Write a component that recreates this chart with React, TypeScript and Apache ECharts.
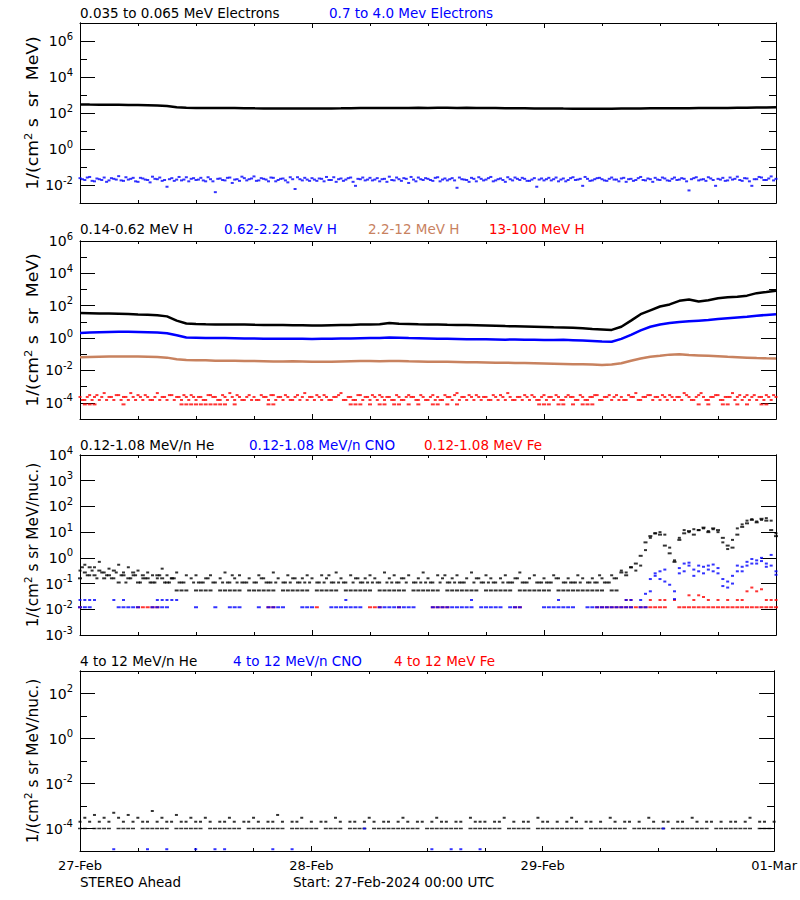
import React, { useEffect, useRef } from "react";
import * as echarts from "echarts";

// ---------- colours & fonts ----------
const FONT = "DejaVu Sans";
const BLACK = "#000000";
const BLUE = "#0000ff";
const BROWN = "#c8825f";
const RED = "#ff0000";

// ---------- time axis (hours since 27-Feb-2024 00:00 UTC) ----------
const dayTickHours = [0, 24, 48, 72];
const dayTickLabels = ["27-Feb", "28-Feb", "29-Feb", "01-Mar"];

// ---------- legends ----------
const legend1 = ["0.035 to 0.065 MeV Electrons", "0.7 to 4.0 Mev Electrons"];
const legend2 = ["0.14-0.62 MeV H", "0.62-2.22 MeV H", "2.2-12 MeV H", "13-100 MeV H"];
const legend3 = ["0.12-1.08 MeV/n He", "0.12-1.08 MeV/n CNO", "0.12-1.08 MeV Fe"];
const legend4 = ["4 to 12 MeV/n He", "4 to 12 MeV/n CNO", "4 to 12 MeV Fe"];

// ---------- panel 1 : electrons ----------
// hourly, 0..72 h
const eLowHourly = [
  295, 292, 290, 288, 284, 280, 275, 270, 262, 245, 210, 195,
  192, 190, 190, 188, 190, 186, 182, 180, 178, 180, 178, 180,
  178, 176, 180, 182, 186, 190, 192, 190, 192, 190, 192, 194,
  192, 194, 196, 192, 194, 192, 190, 188, 186, 184, 182, 180,
  180, 178, 176, 175, 174, 172, 170, 174, 176, 178, 180, 182,
  184, 182, 184, 186, 188, 190, 188, 192, 194, 196, 200, 204, 210,
];
// half-hourly, 0..72 h
const eHighHalfHourly = [
  0.024, 0.019, 0.028, 0.016, 0.021, 0.026, 0.018, 0.022, 0.031, 0.017, 0.02, 0.025,
  0.015, 0.023, 0.019, 0.029, 0.021, 0.017, 0.008, 0.024, 0.02, 0.018, 0.027, 0.022,
  0.019, 0.025, 0.016, 0.021, 0.004, 0.023, 0.018, 0.026, 0.02, 0.017, 0.024, 0.021,
  0.03, 0.018, 0.022, 0.016, 0.025, 0.019, 0.023, 0.014, 0.021, 0.027, 0.018, 0.02,
  0.024, 0.017, 0.022, 0.028, 0.019, 0.015, 0.023, 0.02, 0.026, 0.009, 0.021, 0.018,
  0.025, 0.02, 0.016, 0.022, 0.029, 0.018, 0.021, 0.024, 0.013, 0.02, 0.026, 0.019,
  0.022, 0.017, 0.027, 0.02, 0.018, 0.024, 0.007, 0.021, 0.019, 0.025, 0.016, 0.022,
  0.02, 0.028, 0.018, 0.023, 0.015, 0.021, 0.026, 0.019, 0.022, 0.017, 0.024, 0.02,
  0.018, 0.025, 0.021, 0.016, 0.023, 0.019, 0.027, 0.02, 0.009, 0.022, 0.018, 0.024,
  0.021, 0.017, 0.026, 0.02, 0.023, 0.015, 0.022, 0.019, 0.028, 0.018, 0.021, 0.025,
  0.019, 0.023, 0.017, 0.026, 0.02, 0.022, 0.005, 0.024, 0.018, 0.021, 0.027, 0.019,
  0.022, 0.025, 0.018, 0.02, 0.029, 0.017, 0.023, 0.009, 0.021, 0.026, 0.019, 0.03,
  0.022,
];
// half-hourly, at 0.25 h + 0.5 h steps
const eHighQuarterOffset = [
  0.021, 0.026, 0.017, 0.023, 0.019, 0.015, 0.024, 0.02, 0.018, 0.027, 0.022, 0.016,
  0.025, 0.02, 0.014, 0.022, 0.026, 0.019, 0.021, 0.017, 0.028, 0.02, 0.016, 0.024,
  0.02, 0.018, 0.027, 0.016, 0.022, 0.019, 0.025, 0.013, 0.021, 0.029, 0.018, 0.023,
  0.017, 0.024, 0.02, 0.026, 0.016, 0.022, 0.018, 0.027, 0.006, 0.021, 0.025, 0.017,
  0.02, 0.023, 0.016, 0.019, 0.027, 0.021, 0.017, 0.024, 0.015, 0.022, 0.026, 0.02,
  0.018, 0.024, 0.021, 0.015, 0.019, 0.026, 0.017, 0.022, 0.028, 0.016, 0.021, 0.024,
  0.019, 0.025, 0.016, 0.023, 0.021, 0.018, 0.026, 0.02, 0.015, 0.022, 0.027, 0.018,
  0.024, 0.016, 0.021, 0.019, 0.027, 0.018, 0.022, 0.025, 0.017, 0.02, 0.008, 0.023,
  0.021, 0.018, 0.026, 0.02, 0.016, 0.024, 0.019, 0.022, 0.028, 0.017, 0.021, 0.025,
  0.018, 0.022, 0.02, 0.016, 0.025, 0.021, 0.017, 0.024, 0.019, 0.023, 0.015, 0.02,
  0.026, 0.018, 0.022, 0.019, 0.024, 0.016, 0.021, 0.027, 0.02, 0.017, 0.023, 0.009,
  0.02, 0.017, 0.026, 0.022, 0.019, 0.024, 0.016, 0.021, 0.028, 0.019, 0.023, 0.018,
];

// ---------- panel 2 : protons ----------
const hLowHourly = [
  35, 34, 33, 33, 32, 31, 29, 28, 26, 22, 12, 8,
  7.5, 7.2, 7, 7, 6.8, 6.8, 6.6, 6.5, 6.5, 6.4, 6.3, 6.2,
  6, 6, 6.2, 6.4, 6.5, 6.8, 7, 7.2, 8.5, 7.6, 7.5, 7.2,
  7, 6.8, 6.6, 6.5, 6.4, 6.2, 6, 5.8, 5.5, 5.4, 5.2, 5,
  4.8, 4.6, 4.5, 4.3, 4.0, 3.6, 3.4, 3.2, 5, 12, 30, 52,
  90, 120, 200, 240, 180, 220, 290, 330, 360, 420, 600, 700, 850,
];
const hMidHourly = [
  2.1, 2.2, 2.3, 2.4, 2.5, 2.5, 2.4, 2.3, 2.2, 2.0, 1.5, 1.1,
  1.05, 1.0, 1.0, 1.0, 0.98, 0.95, 0.95, 0.92, 0.9, 0.9, 0.92, 0.9,
  0.88, 0.9, 0.92, 0.95, 0.96, 0.98, 1.0, 1.02, 1.1, 1.05, 1.0, 0.98,
  0.95, 0.92, 0.9, 0.88, 0.86, 0.85, 0.84, 0.82, 0.8, 0.82, 0.8, 0.78,
  0.76, 0.75, 0.78, 0.74, 0.7, 0.66, 0.62, 0.6, 0.9, 1.6, 3, 5,
  7, 8.5, 10, 11, 12, 13, 15, 17, 19, 21, 24, 27, 30,
];
const hHighHourly = [
  0.065, 0.068, 0.07, 0.072, 0.074, 0.074, 0.072, 0.07, 0.068, 0.062, 0.05, 0.044,
  0.042, 0.042, 0.04, 0.04, 0.04, 0.038, 0.038, 0.037, 0.036, 0.036, 0.037, 0.036,
  0.035, 0.034, 0.034, 0.036, 0.037, 0.038, 0.038, 0.037, 0.038, 0.039, 0.037, 0.036,
  0.035, 0.034, 0.034, 0.033, 0.032, 0.032, 0.031, 0.03, 0.03, 0.029, 0.029, 0.028,
  0.027, 0.026, 0.025, 0.024, 0.024, 0.023, 0.022, 0.023, 0.028, 0.04, 0.055, 0.07,
  0.08, 0.095, 0.1, 0.09, 0.085, 0.08, 0.075, 0.07, 0.066, 0.062, 0.058, 0.056, 0.055,
];
const hTopHalfHourly = [
  2.3e-4, 1.5e-4, 3e-4, 2.3e-4, 1.5e-4, 4e-4, 2.3e-4, 1.5e-4, 3e-4, 2.3e-4, 1.5e-4, 2.3e-4,
  3e-4, 1.5e-4, 2.3e-4, 1.5e-4, 4e-4, 2.3e-4, 1.5e-4, 3e-4, 2.3e-4, 1.5e-4, 2.3e-4, 3e-4,
  1.5e-4, 2.3e-4, 1.5e-4, 3e-4, 2.3e-4, 1.5e-4, 2.3e-4, 4e-4, 1.5e-4, 2.3e-4, 1.5e-4, 3e-4,
  2.3e-4, 1.5e-4, 2.3e-4, 1.5e-4, 3e-4, 2.3e-4, 1.5e-4, 2.3e-4, 1.5e-4, 3e-4, 2.3e-4, 1.5e-4,
  2.3e-4, 3e-4, 1.5e-4, 2.3e-4, 1.5e-4, 2.3e-4, 4e-4, 1.5e-4, 2.3e-4, 1.5e-4, 3e-4, 2.3e-4,
  1.5e-4, 2.3e-4, 3e-4, 1.5e-4, 2.3e-4, 1.5e-4, 2.3e-4, 1.5e-4, 3e-4, 2.3e-4, 1.5e-4, 2.3e-4,
  1.5e-4, 3e-4, 2.3e-4, 1.5e-4, 2.3e-4, 1.5e-4, 4e-4, 2.3e-4, 1.5e-4, 2.3e-4, 3e-4, 1.5e-4,
  2.3e-4, 1.5e-4, 2.3e-4, 3e-4, 1.5e-4, 2.3e-4, 1.5e-4, 2.3e-4, 3e-4, 1.5e-4, 2.3e-4, 1.5e-4,
  3e-4, 2.3e-4, 1.5e-4, 2.3e-4, 1.5e-4, 3e-4, 2.3e-4, 1.5e-4, 2.3e-4, 1.5e-4, 2.3e-4, 3e-4,
  1.5e-4, 2.3e-4, 1.5e-4, 3e-4, 2.3e-4, 1.5e-4, 2.3e-4, 4e-4, 1.5e-4, 2.3e-4, 3e-4, 2.3e-4,
  1.5e-4, 2.3e-4, 3e-4, 1.5e-4, 2.3e-4, 4e-4, 2.3e-4, 1.5e-4, 3e-4, 2.3e-4, 1.5e-4, 2.3e-4,
  3e-4, 1.5e-4, 2.3e-4, 4e-4, 2.3e-4, 1.5e-4, 3e-4, 2.3e-4, 1.5e-4, 2.3e-4, 3e-4, 1.5e-4,
  2.3e-4,
];
const hTopQuarterOffset = [
  1.5e-4, 2.3e-4, 1.5e-4, 3e-4, 2.3e-4, 1.5e-4, 2.3e-4, 3e-4, 1.5e-4, 2.3e-4, 4e-4, 1.5e-4,
  2.3e-4, 3e-4, 1.5e-4, 2.3e-4, 1.5e-4, 2.3e-4, 3e-4, 1.5e-4, 2.3e-4, 3e-4, 1.5e-4, 2.3e-4,
  2.3e-4, 1.5e-4, 3e-4, 2.3e-4, 1.5e-4, 3e-4, 1.5e-4, 2.3e-4, 3e-4, 1.5e-4, 2.3e-4, 1.5e-4,
  1.5e-4, 3e-4, 2.3e-4, 3e-4, 1.5e-4, 2.3e-4, 3e-4, 1.5e-4, 2.3e-4, 1.5e-4, 4e-4, 2.3e-4,
  1.5e-4, 2.3e-4, 3e-4, 1.5e-4, 2.3e-4, 3e-4, 1.5e-4, 2.3e-4, 1.5e-4, 3e-4, 1.5e-4, 2.3e-4,
  3e-4, 1.5e-4, 2.3e-4, 2.3e-4, 1.5e-4, 3e-4, 1.5e-4, 2.3e-4, 2.3e-4, 1.5e-4, 3e-4, 1.5e-4,
  2.3e-4, 1.5e-4, 1.5e-4, 3e-4, 2.3e-4, 3e-4, 1.5e-4, 2.3e-4, 3e-4, 1.5e-4, 2.3e-4, 2.3e-4,
  1.5e-4, 3e-4, 1.5e-4, 2.3e-4, 4e-4, 1.5e-4, 2.3e-4, 1.5e-4, 2.3e-4, 3e-4, 1.5e-4, 2.3e-4,
  1.5e-4, 2.3e-4, 3e-4, 1.5e-4, 2.3e-4, 2.3e-4, 1.5e-4, 3e-4, 1.5e-4, 2.3e-4, 3e-4, 1.5e-4,
  2.3e-4, 3e-4, 2.3e-4, 1.5e-4, 1.5e-4, 3e-4, 2.3e-4, 1.5e-4, 2.3e-4, 3e-4, 1.5e-4, 2.3e-4,
  3e-4, 1.5e-4, 2.3e-4, 2.3e-4, 1.5e-4, 3e-4, 1.5e-4, 2.3e-4, 4e-4, 1.5e-4, 2.3e-4, 3e-4,
  1.5e-4, 2.3e-4, 2.3e-4, 1.5e-4, 3e-4, 2.3e-4, 1.5e-4, 3e-4, 2.3e-4, 1.5e-4, 2.3e-4, 3e-4,
];
const hTopLowRowLevel = 8e-5;
const hTopLowRowHours = [
  0.5, 1, 1.5, 4.5, 10.5, 11, 11.5, 12, 12.5, 13, 13.5, 14, 14.5, 15, 16, 19.5, 20,
  28, 28.5, 29, 30, 31, 31.5, 32.5, 33, 34, 35, 36.5, 37, 38, 39, 47.5, 48, 48.5,
  49.5, 50, 51, 52, 52.5, 53, 64, 65, 66.5, 67, 68, 69, 70.5, 71,
];

// ---------- panel 3 : 0.12-1.08 MeV/n ions ----------
const heLowHalfHourly = [
  0.32, 0.54, 0.21, 0.43, 0.7, 0.27, 0.38, 0.16, 0.54, 0.27, 0.43, 0.21,
  0.32, 0.16, 0.27, 0.21, 0.16, 0.38, 0.21, 0.16, 0.27, 0.11, 0.21, 0.16,
  0.21, 0.11, 0.16, 0.21, 0.11, 0.16, 0.27, 0.11, 0.16, 0.21, 0.11, 0.16,
  0.11, 0.21, 0.16, 0.11, 0.27, 0.16, 0.11, 0.21, 0.16, 0.11, 0.16, 0.21,
  0.16, 0.11, 0.21, 0.16, 0.11, 0.27, 0.16, 0.11, 0.21, 0.16, 0.11, 0.16,
  0.21, 0.16, 0.11, 0.27, 0.16, 0.21, 0.11, 0.16, 0.21, 0.11, 0.16, 0.27,
  0.16, 0.11, 0.21, 0.16, 0.11, 0.16, 0.21, 0.11, 0.16, 0.27, 0.16, 0.11,
  0.21, 0.16, 0.11, 0.16, 0.21, 0.11, 0.16, 0.27, 0.11, 0.16, 0.21, 0.11,
  0.16, 0.11, 0.21, 0.16, 0.11, 0.16, 0.11, 0.21, 0.16, 0.11, 0.16, 0.11,
  0.16, 0.11, 0.21, 0.16, 0.32, 0.27, 0.43, 0.32, 0.5, 2, 6, 9,
  10, 8, 2.5, 0.8, 6, 12, 10, 13, 12, 14, 11, 13,
  10, 4, 2.2, 5, 14, 20, 28, 32, 26, 30, 35, 28,
  9,
];
const heLowExtraHalfHourly = [
  0.16, 0.27, 0.43, 0.21, 0.32, 0.16, 0.21, 0.32, 0.11, 0.21, 0.16, 0.27,
  0.11, 0.21, 0.16, 0.11, 0.21, 0.16, 0.11, 0.16, 0.054, 0.054, 0.054, null,
  0.054, 0.054, 0.054, 0.054, null, 0.054, 0.054, 0.054, 0.054, 0.054, null, 0.054,
  0.054, 0.054, 0.054, 0.054, 0.054, null, 0.054, 0.054, 0.054, 0.054, 0.054, 0.054,
  null, 0.054, 0.054, 0.054, 0.054, 0.054, null, 0.054, 0.054, 0.054, 0.054, 0.054,
  0.054, null, 0.054, 0.054, 0.054, 0.054, 0.054, 0.054, null, 0.054, 0.054, 0.054,
  0.054, 0.054, 0.054, null, 0.054, 0.054, 0.054, 0.054, 0.054, 0.054, 0.054, null,
  0.054, 0.054, 0.054, 0.054, 0.054, 0.054, null, 0.054, 0.054, 0.054, 0.054, 0.054,
  0.054, 0.054, null, 0.054, 0.054, 0.054, 0.054, 0.054, 0.054, 0.054, 0.054, 0.054,
  0.054, null, 0.054, 0.054, 0.27, 0.21, 0.43, 0.6, 1.2, 4, 7, 9,
  8, 3, 1.5, 0.7, 5, 9, 11, 8, 12, 15, 10, 14,
  12, 6, 3, 2.5, 8, 16, 22, 30, 24, 33, 28, 12,
  7,
];
// quarter-hour offsets, 0.25 .. 55.25 h
const heLowQuarterOffset = [
  0.43, 0.21, 0.32, 0.16, 0.27, 0.21, 0.16, 0.27, 0.21, 0.11, 0.16, 0.21,
  0.11, 0.16, 0.11, 0.11, 0.21, 0.11, 0.11, 0.16, 0.11, 0.11, null, 0.11,
  0.11, 0.11, 0.16, 0.11, null, 0.11, 0.11, 0.21, 0.11, 0.11, 0.11, null,
  0.11, 0.16, 0.11, 0.11, 0.11, null, 0.11, 0.11, 0.16, 0.11, 0.11, 0.11,
  null, 0.11, 0.11, 0.21, 0.11, 0.11, 0.11, null, 0.11, 0.16, 0.11, 0.11,
  0.11, 0.11, null, 0.11, 0.11, 0.11, 0.16, 0.11, null, 0.11, 0.11, 0.11,
  0.11, null, 0.11, 0.21, 0.11, 0.11, 0.11, 0.11, null, 0.11, 0.16, 0.11,
  0.11, 0.11, null, 0.11, 0.11, 0.11, 0.16, 0.11, 0.11, null, 0.11, 0.11,
  0.11, 0.11, 0.16, null, 0.11, 0.11, 0.11, 0.11, null, 0.11, 0.11, 0.21,
  0.11, 0.11, 0.16,
];
const cnoLowTwoCountLevel = 0.023;
const cnoLowTwoCountHours = [0, 0.5, 1, 1.5, 3.5, 4.5, 8, 8.5, 9, 9.5, 10, 27.5, 40.5, 49.5, 56.5, 57, 58];
const cnoLowOneCountLevel = 0.012;
const cnoLowOneCountHours = [
  0, 0.5, 1, 4, 4.5, 5, 5.5, 6, 7.5, 8, 8.5, 9, 12, 14, 15.5, 16, 16.5, 18.5,
  19.5, 20, 20.5, 21, 23, 23.5, 24, 26, 26.5, 27, 27.5, 28, 28.5, 29,
  31, 31.5, 32, 32.5, 33, 33.5, 34, 34.5, 36.5, 37, 37.5, 38, 38.5, 39, 39.5, 40, 40.5,
  41.5, 42, 42.5, 43, 43.5, 44.5, 45, 45.5, 48, 48.5, 49, 49.5, 50, 50.5, 51,
  52.5, 53, 53.5, 54, 54.5, 55, 55.5, 56, 56.5, 57, 58, 58.5,
];
const cnoLowRise = [
  [58.5, 0.04], [59, 0.15], [59.5, 0.25], [60, 0.3], [60.5, 0.35], [61, 0.09], [61.5, 0.05],
  [62, 0.4], [62.5, 0.6], [63, 0.5], [63.5, 0.35], [64, 0.3], [64.5, 0.45], [65, 0.5],
  [65.5, 0.55], [66, 0.4], [66.5, 0.15], [67, 0.07], [67.5, 0.1], [68, 0.3], [68.5, 0.45],
  [69, 0.7], [69.5, 0.9], [70, 0.8], [70.5, 0.75], [71, 0.6], [71.5, 0.5], [72, 0.22],
];
const cnoLowRiseExtra = [
  [59, 0.05], [59.5, 0.2], [60, 0.15], [60.5, 0.12], [61.5, 0.025], [62, 0.25], [62.5, 0.3],
  [63, 0.65], [63.5, 0.2], [64, 0.5], [64.5, 0.25], [65, 0.35], [65.5, 0.3], [66, 0.25],
  [66.5, 0.08], [67, 0.12], [67.5, 0.2], [68, 0.5], [68.5, 0.3], [69, 0.5], [69.5, 0.6],
  [70, 0.6], [70.5, 1.0], [71, 0.45], [71.5, 1.3], [72, 0.3],
];
const feLowOneCountLevel = 0.012;
const feLowOneCountHours = [
  0, 6, 6.5, 7, 7.5, 8, 19.5, 20, 24.5, 30, 30.5, 31, 33, 36.5, 37, 37.5, 38, 45, 45.5,
  53.5, 54, 54.5, 55, 55.5, 56, 56.5, 57, 57.5, 58, 58.5, 59, 59.5, 60, 60.5,
  62, 62.5, 63, 63.5, 64, 64.5, 65, 65.5, 66, 66.5, 67, 67.5, 68, 68.5, 69, 69.5,
  70, 70.5, 71, 71.5, 72,
];
const feLowRise = [
  [56.5, 0.023], [57, 0.023], [59, 0.023], [60, 0.023], [60.5, 0.023], [61.5, 0.023],
  [63, 0.035], [63.5, 0.023], [64, 0.035], [64.5, 0.03], [65, 0.023], [66, 0.023],
  [67, 0.023], [68, 0.023], [68.5, 0.023], [69, 0.05], [69.5, 0.07], [70, 0.05],
  [70.5, 0.06], [71, 0.023], [71.5, 0.023], [72, 0.023],
];

// ---------- panel 4 : 4-12 MeV/n ions ----------
const heHighHalfHourly = [
  2e-4, 3e-4, 2e-4, 4e-4, 2e-4, 3e-4, 2e-4, 5e-4, 3e-4, 2e-4, 4e-4, 2e-4,
  3e-4, 2e-4, 2e-4, 6e-4, 2e-4, 3e-4, 2e-4, 2e-4, 4e-4, 2e-4, 2e-4, 3e-4,
  2e-4, 2e-4, 3e-4, 2e-4, null, 2e-4, 2e-4, 3e-4, 2e-4, null, 2e-4, 2e-4,
  3e-4, 2e-4, null, 2e-4, 2e-4, 4e-4, 2e-4, null, 2e-4, 2e-4, 3e-4, null,
  2e-4, null, 2e-4, 2e-4, null, 3e-4, 2e-4, null, 2e-4, 2e-4, null, 2e-4,
  3e-4, 2e-4, null, 2e-4, 2e-4, null, 2e-4, 3e-4, 2e-4, null, 2e-4, 2e-4,
  null, 2e-4, 3e-4, 2e-4, 2e-4, null, 2e-4, 2e-4, null, 3e-4, 2e-4, 2e-4,
  2e-4, null, 2e-4, 2e-4, 3e-4, null, 2e-4, null, 2e-4, 2e-4, null, 3e-4,
  2e-4, 2e-4, null, 2e-4, null, 2e-4, 3e-4, 2e-4, null, 2e-4, 2e-4, null,
  2e-4, null, 3e-4, 2e-4, null, 2e-4, 2e-4, null, 2e-4, null, 3e-4, 2e-4,
  null, 2e-4, 2e-4, null, 2e-4, 2e-4, null, 3e-4, 2e-4, null, 2e-4, 2e-4,
  null, 2e-4, null, 2e-4, 2e-4, null, 2e-4, 3e-4, null, 2e-4, 2e-4, null,
  2e-4,
];
const heHighOneCountLevel = 1e-4;
const heHighOneCountHours = [
  0, 0.5, 1.5, 2, 2.5, 3, 4, 4.5, 5, 5.5, 6.5, 7, 7.5, 8, 8.5, 9, 10, 10.5, 11, 11.5,
  12, 12.5, 13.5, 14, 14.5, 15, 15.5, 16, 16.5, 17.5, 18, 18.5, 19, 19.5, 20, 20.5, 21,
  22, 22.5, 23, 23.5, 24, 24.5, 25.5, 26, 26.5, 27, 28, 28.5, 29, 29.5, 30.5, 31, 31.5,
  32, 32.5, 33, 33.5, 34, 34.5, 35, 36, 36.5, 37, 37.5, 38, 38.5, 39, 39.5, 40.5, 41,
  41.5, 42, 42.5, 43, 43.5, 44.5, 45, 45.5, 46, 46.5, 47.5, 48, 48.5, 49, 49.5, 50,
  50.5, 51, 51.5, 52, 53, 53.5, 54, 54.5, 55, 55.5, 56, 56.5, 57.5, 58, 58.5, 59, 59.5,
  60, 60.5, 61.5, 62, 62.5, 63, 63.5, 64, 64.5, 65, 66, 66.5, 67, 67.5, 68, 68.5, 69,
  69.5, 70.5, 71, 71.5,
];
const cnoHighLowestLevel = 1.2e-5;
const cnoHighLowestHours = [3.5, 7, 9, 12, 14, 15, 20, 22, 36.5, 38.5, 39.5, 41.5];
const cnoHighOneCountLevel = 1e-4;
const cnoHighOneCountHours = [29.5, 60.5];

// ---------- panels layout ----------
const panels = [
  { top: 23, height: 180, min: -3, max: 7, major: [-2, 0, 2, 4, 6], minor: [-1, 1, 3, 5], legend: legend1, legendY: 13, legendX: [80, 329], colors: [BLACK, BLUE], title: "1/(cm{s|2} s  sr  MeV)", titleScale: 1.15 },
  { top: 241, height: 178, min: -5, max: 6, major: [-4, -2, 0, 2, 4, 6], minor: [-3, -1, 1, 3, 5], legend: legend2, legendY: 229, legendX: [80, 224, 368, 489], colors: [BLACK, BLUE, BROWN, RED], title: "1/(cm{s|2} s  sr  MeV)", titleScale: 1.15 },
  { top: 455, height: 180, min: -3, max: 4, major: [-3, -2, -1, 0, 1, 2, 3, 4], minor: [] as number[], legend: legend3, legendY: 445, legendX: [80, 249, 424], colors: [BLACK, BLUE, RED], title: "1/(cm{s|2} s sr MeV/nuc.)", titleScale: 1.02 },
  { top: 671, height: 180, min: -5, max: 3, major: [-4, -2, 0, 2], minor: [-3, -1, 1], legend: legend4, legendY: 661, legendX: [80, 233, 394], colors: [BLACK, BLUE, RED], title: "1/(cm{s|2} s sr MeV/nuc.)", titleScale: 1.02 },
];

// ---------- helpers ----------
type P = [number, number];
const stepped = (values: (number | null)[], step: number, offset = 0): P[] => {
  const out: P[] = [];
  values.forEach((v, i) => {
    if (v != null) out.push([offset + i * step, Math.log10(v)]);
  });
  return out;
};
const atLevel = (hours: number[], level: number): P[] => hours.map((h) => [h, Math.log10(level)]);
const pairs = (list: number[][]): P[] => list.map(([h, v]) => [h, Math.log10(v)]);

const dots = (data: P[], color: string, panel: number, size: number[] = [3, 2]) => ({
  type: "scatter",
  data,
  xAxisIndex: panel * 2,
  yAxisIndex: panel * 4,
  symbol: "rect",
  symbolSize: size,
  itemStyle: { color },
  silent: true,
  animation: false,
});
const trace = (data: P[], color: string, panel: number) => ({
  type: "line",
  data,
  xAxisIndex: panel * 2,
  yAxisIndex: panel * 4,
  showSymbol: false,
  symbol: "none",
  lineStyle: { color, width: 2.5 },
  silent: true,
  animation: false,
});

function buildOption() {
  const axisLine = { show: true, onZero: false, lineStyle: { color: BLACK, width: 1 } };
  const grid = panels.map((p) => ({ left: 80, right: 24, top: p.top, height: p.height }));

  const xAxis: any[] = [];
  panels.forEach((p, i) => {
    ["bottom", "top"].forEach((pos) => {
      xAxis.push({
        gridIndex: i,
        type: "value",
        position: pos,
        min: 0,
        max: 72,
        interval: 24,
        axisLine,
        axisTick: { show: true, inside: true, length: 5, lineStyle: { color: BLACK } },
        minorTick: { show: true, splitNumber: 4, length: 3, lineStyle: { color: BLACK } },
        splitLine: { show: false },
        minorSplitLine: { show: false },
        axisLabel: {
          show: pos === "bottom" && i === 3,
          margin: 8,
          color: BLACK,
          fontFamily: FONT,
          fontSize: 13,
          showMinLabel: true,
          showMaxLabel: true,
          formatter: (v: number) => {
            const k = dayTickHours.indexOf(v);
            return k >= 0 ? dayTickLabels[k] : "";
          },
        },
      });
    });
  });

  const yAxis: any[] = [];
  panels.forEach((p, i) => {
    const base = (pos: string) => ({
      gridIndex: i,
      type: "value",
      position: pos,
      min: p.min,
      max: p.max,
      axisLine,
      splitLine: { show: false },
    });
    yAxis.push({
      ...base("left"),
      axisTick: { show: true, inside: true, length: 15, customValues: p.major, lineStyle: { color: BLACK } },
      axisLabel: {
        show: true,
        customValues: p.major,
        margin: 7,
        color: BLACK,
        fontFamily: FONT,
        fontSize: 14,
        formatter: (v: number) => `{b|10}{s|${v}}`,
        rich: {
          b: { fontFamily: FONT, fontSize: 14, color: BLACK },
          s: { fontFamily: FONT, fontSize: 10, color: BLACK, verticalAlign: "bottom", padding: [0, 0, 10, 0] },
        },
      },
    });
    yAxis.push({
      ...base("left"),
      axisTick: { show: p.minor.length > 0, inside: true, length: 7, customValues: p.minor, lineStyle: { color: BLACK } },
      axisLabel: { show: false },
    });
    yAxis.push({
      ...base("right"),
      axisTick: { show: true, inside: true, length: 15, customValues: p.major, lineStyle: { color: BLACK } },
      axisLabel: { show: false },
    });
    yAxis.push({
      ...base("right"),
      axisTick: { show: p.minor.length > 0, inside: true, length: 7, customValues: p.minor, lineStyle: { color: BLACK } },
      axisLabel: { show: false },
    });
  });

  const series: any[] = [
    // panel 1
    dots(stepped(eHighHalfHourly, 0.5), BLUE, 0),
    dots(stepped(eHighQuarterOffset, 0.5, 0.25), BLUE, 0),
    trace(stepped(eLowHourly, 1), BLACK, 0),
    // panel 2
    dots(stepped(hTopHalfHourly, 0.5), RED, 1),
    dots(stepped(hTopQuarterOffset, 0.5, 0.25), RED, 1),
    dots(atLevel(hTopLowRowHours, hTopLowRowLevel), RED, 1, [4, 2]),
    trace(stepped(hHighHourly, 1), BROWN, 1),
    trace(stepped(hMidHourly, 1), BLUE, 1),
    trace(stepped(hLowHourly, 1), BLACK, 1),
    // panel 3
    dots(atLevel(feLowOneCountHours, feLowOneCountLevel), RED, 2, [4, 2]),
    dots(pairs(feLowRise), RED, 2),
    dots(atLevel(cnoLowOneCountHours, cnoLowOneCountLevel), BLUE, 2, [4, 2]),
    dots(atLevel(cnoLowTwoCountHours, cnoLowTwoCountLevel), BLUE, 2),
    dots(pairs(cnoLowRise), BLUE, 2),
    dots(pairs(cnoLowRiseExtra), BLUE, 2),
    dots(stepped(heLowExtraHalfHourly, 0.5), BLACK, 2, [4, 2]),
    dots(stepped(heLowQuarterOffset, 0.5, 0.25), BLACK, 2),
    dots(stepped(heLowHalfHourly, 0.5), BLACK, 2),
    // panel 4
    dots(atLevel(cnoHighLowestHours, cnoHighLowestLevel), BLUE, 3),
    dots(atLevel(heHighOneCountHours, heHighOneCountLevel), BLACK, 3, [4, 1.5]),
    dots(atLevel(cnoHighOneCountHours, cnoHighOneCountLevel), BLUE, 3),
    dots(stepped(heHighHalfHourly, 0.5), BLACK, 3),
  ];

  const graphic: any[] = [];
  panels.forEach((p) => {
    p.legend.forEach((t, k) => {
      graphic.push({
        type: "text",
        x: p.legendX[k],
        y: p.legendY,
        silent: true,
        style: { text: t, fill: p.colors[k], fontFamily: FONT, fontSize: 13.5, align: "left", verticalAlign: "middle" },
      });
    });
    graphic.push({
      type: "text",
      x: 33,
      y: p.top + p.height / 2,
      rotation: Math.PI / 2,
      scaleX: p.titleScale,
      silent: true,
      style: {
        text: p.title,
        fill: BLACK,
        fontFamily: FONT,
        fontSize: 15,
        align: "center",
        verticalAlign: "middle",
        rich: {
          s: { fontFamily: FONT, fontSize: 10, fill: BLACK, verticalAlign: "bottom", padding: [0, 0, 9, 0] },
        },
      },
    });
  });
  graphic.push({
    type: "text", x: 80, y: 882, silent: true,
    style: { text: "STEREO Ahead", fill: BLACK, fontFamily: FONT, fontSize: 13.5, align: "left", verticalAlign: "middle" },
  });
  graphic.push({
    type: "text", x: 293, y: 882, silent: true,
    style: { text: "Start: 27-Feb-2024 00:00 UTC", fill: BLACK, fontFamily: FONT, fontSize: 13.5, align: "left", verticalAlign: "middle" },
  });

  return {
    animation: false,
    backgroundColor: "#ffffff",
    textStyle: { fontFamily: FONT },
    grid,
    xAxis,
    yAxis,
    series,
    graphic,
  };
}

export default function App() {
  const ref = useRef<HTMLDivElement>(null);
  useEffect(() => {
    document.body.style.margin = "0";
    if (!ref.current) return;
    const chart = echarts.init(ref.current, undefined, { renderer: "svg" });
    chart.setOption(buildOption() as any);
    return () => chart.dispose();
  }, []);
  return <div ref={ref} style={{ width: 800, height: 900 }} />;
}
